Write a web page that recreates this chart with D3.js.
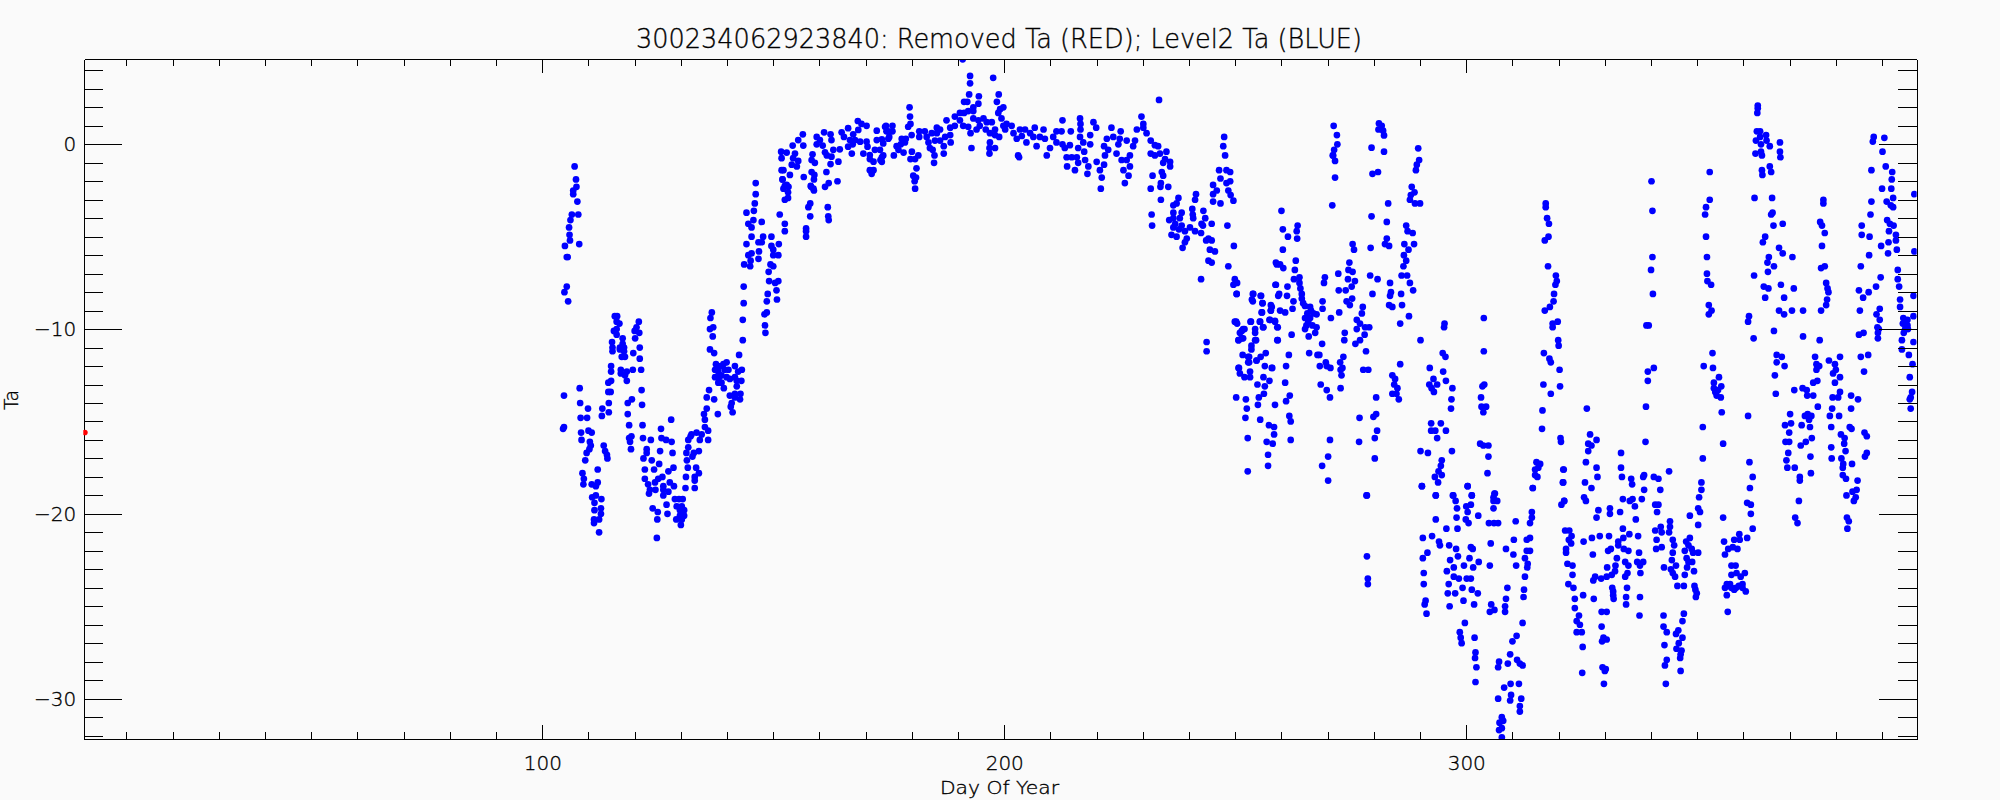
<!DOCTYPE html>
<html>
<head>
<meta charset="utf-8">
<script src="https://cdn.jsdelivr.net/npm/d3@7/dist/d3.min.js"></script>
<style>
html,body{margin:0;padding:0;background:#fafafa;}
svg{display:block;}
text{font-family:"DejaVu Sans Light","DejaVu Sans",sans-serif;font-weight:200;fill:#000;stroke:#000;stroke-width:.35px;}
</style>
</head>
<body>
<svg id="chart" width="2000" height="800"></svg>
<script>
const titleText = "300234062923840: Removed Ta (RED); Level2 Ta (BLUE)";
const xLabel = "Day Of Year";
const yLabel = "Ta";
const xMajor = [100,200,300];
const yMajor = [0,-10,-20,-30];
const xMinor = [10,20,30,40,50,60,70,80,90,110,120,130,140,150,160,170,180,190,210,220,230,240,250,260,270,280,290,310,320,330,340,350,360,370,380,390];
const yMinor = [4,3,2,1,-1,-2,-3,-4,-5,-6,-7,-8,-9,-11,-12,-13,-14,-15,-16,-17,-18,-19,-21,-22,-23,-24,-25,-26,-27,-28,-29,-31,-32];
const xDomain = [0.87,397.5];
const yDomain = [4.6,-32.2];

// Removed Ta (red): day, Ta
const removedPoints = [1,-15.6];

// Level2 Ta (blue), flat lists of day, Ta
const level2Spring = [
107,-1.2,107.3,-1.9,107.4,-2.3,106.7,-2.5,106.7,-2.7,107.6,-3.1,106.4,-3.8,107.8,-3.8,106.1,-4.1,105.8,-4.5,105.9,-4.9,106,-5.2,108,-5.4,104.9,-5.5,105.3,-6.1,105.5,-6.1,105.3,-7.7,104.8,-8,105.6,-8.5,
104.7,-13.6,104.5,-15.4,104.7,-15.3,108.1,-13.2,108.2,-14,109.9,-14.3,108.3,-14.8,109.7,-14.8,108.4,-15.6,108.5,-16,110,-15.5,110.7,-15.6,110.3,-16.1,110.5,-16.3,110.2,-16.5,109.6,-16.7,109.3,-17.1,108.7,-17.8,109,-18.1,108.9,-18.4,112,-17.6,110.7,-18.4,112,-18.3,111.6,-18.5,111.6,-19,110.8,-19.1,111.3,-19.4,112.8,-19.2,112.7,-19.7,111.3,-19.8,112.7,-20,112.3,-20.3,111.2,-20.3,111.2,-20.5,112.3,-21,
112.9,-14.7,113,-14.3,114.4,-14.5,114.4,-14,114.3,-13.4,114.8,-13.4,114.3,-12.9,114.9,-12.8,114.9,-12.3,114.9,-12,115.1,-10.7,115.2,-11,115.2,-11.2,115.7,-9.3,116.2,-9.3,116.1,-9.6,116.7,-9.7,116.1,-10,115.5,-10.1,116.1,-10.3,
117.4,-10.5,117.4,-10.8,116.8,-11,117.7,-11,116.8,-11.1,117.7,-11.2,117.2,-11.5,117.9,-11.5,117,-12.2,117,-12.4,118.3,-12.3,117.9,-12.5,118.3,-12.8,119.6,-12.2,121.4,-12.2,119.7,-11.3,121.1,-11,121.1,-11.6,120.1,-10.5,121,-10.2,120,-10.1,120.4,-9.9,120.9,-9.6,
121.5,-13.3,121.6,-14.1,119.4,-13.8,118.5,-14,118.5,-14.6,118.8,-15.2,121.7,-15.2,119.3,-15.8,118.8,-15.9,121.8,-15.9,119,-16.1,119.2,-16.5,113.3,-16.3,113.6,-16.6,114,-16.8,114.1,-17,
123.5,-16,125.7,-15.4,127.9,-14.9,125.8,-15.9,126.8,-16,128,-16.1,122.6,-16.5,122.6,-16.7,125.5,-16.6,128.2,-16.7,121.9,-17,123.7,-17.1,125.3,-17.3,122.2,-17.6,124.2,-17.6,127.3,-17.7,128.4,-17.5,122.2,-18.1,126,-18,125.1,-18.1,124.4,-18.3,122.9,-18.4,127.6,-18.3,128.5,-18.5,126.2,-18.5,123.3,-18.7,124.5,-18.7,123.1,-18.9,126.2,-18.7,127.3,-18.8,126.2,-19,
123.9,-19.7,125,-19.9,124.9,-20.3,124.8,-21.3,126.9,-19.5,127.1,-20,128.7,-19.2,129.6,-19.2,130.4,-19.2,129.1,-19.6,130.2,-19.6,130.7,-19.8,129.8,-19.8,130.7,-20.1,129.8,-20.1,129,-20.3,130.2,-20.3,130,-20.6,
131,-18.6,131.1,-18,131.5,-17.5,131.3,-17.1,131.2,-16.7,131.6,-16.4,131.6,-16,132.3,-15.7,133.4,-15.6,134.5,-15.7,135.9,-15.5,132.1,-15.8,134.1,-16,135.9,-16,132.5,-16.9,132.8,-16.7,133.9,-16.6,133.3,-17.5,133.9,-17.8,133,-18,133,-18.2,133,-18.6,
135.2,-15.3,135,-14.6,135.6,-14.3,135.2,-14.9,138,-14.6,135.6,-13.7,136.1,-13.3,137.2,-13.8,
137.6,-11.9,139.9,-11.8,137.4,-12.2,138.8,-12,140.3,-12.2,138.1,-12.3,137.4,-12.6,138.8,-12.5,139.9,-12.6,140.6,-12.7,138.1,-12.9,138.8,-12.9,139.3,-13.2,138.1,-12,139.5,-12.2,138.3,-12.6,139.2,-11.9,
141.7,-12,143.2,-12.2,142.4,-12.3,141.7,-12.6,143.1,-12.8,142.1,-13.1,142.1,-12.8,140.6,-13.6,141.7,-13.5,142.9,-13.5,141.7,-13.7,142.8,-13.8,141,-14,140.8,-14.2,141.2,-14.5,
142.6,-11.4,143.4,-10.6,143.4,-9.5,143.6,-8.6,143.6,-7.7,136.3,-11.1,137.2,-11.3,136.9,-10.4,136.3,-10,137,-9.9,136.4,-9.4,136.7,-9.1,
143.7,-6.5,145,-6.6,145.1,-6.3,144.6,-6,145.3,-5.9,146.8,-6.2,146.9,-5.8,144.2,-5.4,145.3,-5,146.8,-5.3,147.5,-5.3,147.8,-5,144.6,-4.3,145.3,-4.5,145.7,-4.1,147.5,-4.2,144.2,-3.7,145.8,-3.6,146,-3.2,146.2,-2.7,146.2,-2.1,
149.6,-5,149.6,-5.5,151.2,-5.4,150,-5.7,151.1,-6,150,-6,149.4,-6.5,150,-6.6,149,-6.9,149.1,-7.4,150.4,-7.5,151.1,-7.4,150.7,-7.9,148.8,-8.1,150.8,-8.4,148.6,-8.5,148.6,-9.1,148.1,-9.2,148.2,-9.8,148.3,-10.2,151.4,-3.8,152.5,-4.3,152.5,-4.7
];
const level2Summer = [
156.4,.54,155.4,.23,156.5,-.07,154.2,-.07,151.7,-.4,152.9,-.45,154.7,-.5,151.8,-.75,154.3,-.75,155.4,-.9,154,-1.1,155.1,-1.2,151.8,-1.4,152.2,-1.4,153.6,-1.66,152,-1.9,152.5,-2.25,153.3,-2.3,
152,-1.9,152.9,-2.2,152.2,-2.4,153.2,-2.6,153.2,-2.9,152.5,-3,158.5,-.54,158.3,-.85,159,-1,158.3,-1.5,158.9,-1.66,158.8,-1.9,156.6,-1.77,158.1,-2.25,158.7,-2.4,161.5,-1.5,162,-2.1,163.9,-2,161.2,-2.3,
158.2,-2.3,158.8,-2.5,158,-3.2,157.6,-3.4,158,-3.9,157.1,-4.55,157.1,-4.7,157.1,-5,161.8,-3.4,161.9,-3.9,162,-4.1,
159.4,.4,161,.65,160.1,.23,159.4,0,160.7,-.07,161.2,-.43,161.6,-.6,162.4,.54,162.6,.23,163,-.3,164.4,-.27,162.6,-.67,164.1,-.94,162.4,-1.07,
164.8,.65,166.2,.87,165.3,.4,166.6,.23,167.3,.54,168.3,1.26,169.1,1.1,170.2,1,168.4,.78,167.7,.23,167.2,0,166.2,-.13,167,-.5,168.8,.14,170.2,.14,170.4,-.13,169.5,-.5,170.9,-.58,172.4,.74,172.4,.23,174.4,1,174.5,.7,174.9,.3,173.8,.05,173.5,.27,172,-.3,173.1,-.3,173.8,-.6,170.9,-.8,171.7,-.94,173.2,-.85,170.9,-1.4,171.7,-1.4,171.3,-1.6,
173.5,-.7,173.5,-.95,174.2,.95,175.8,1,174.9,.7,175.8,.7,175.1,.4,176.1,-.6,176.7,-.1,177.8,.3,178.7,.3,177.6,0,178.2,-.45,178.5,.1,177.1,-.3,
179.5,2,179.6,1.5,179.7,1.1,179.2,.95,179.95,.5,180,-.4,179.7,-.8,181.4,-.6,180.7,-.8,181,-1.3,180.3,-1.7,180.9,-1.8,180.6,-2,180.7,-2.4,
181.6,.7,181.6,.4,182.8,.7,183.2,.4,184.3,.6,185.4,.9,185.4,.6,186.1,.8,185,.2,183.6,.1,183.9,-.2,184.5,-.3,184.9,-.6,184.8,-1,186.9,-.1,186.9,-.5,186.1,.2,187.2,.4,188.3,.5,188.4,.1,
187.5,1.3,188.3,.9,189.3,1.5,190.4,1.7,189.3,1,190.4,1.3,191.3,1.7,191.1,1,192.2,1.8,193.3,2,193.3,1.8,
191,4.6,192.6,3.7,192.6,3.3,192.4,2.7,191.3,2.3,192,2.3,194.5,2.6,194.4,2.2,197.6,3.6,198.8,2.7,198.4,2.3,
192.9,-.2,192.7,.6,194,.8,192.2,.95,193.3,1.4,194.4,1.3,195.5,1.4,196.2,1.2,194.7,1,197.3,1.2,196,.8,198,.8,196.9,.6,199.1,1.9,199.8,2,198.7,1.7,199.4,1.4,199.8,1,200.5,1.1,201.6,1,200.2,.8,198,.5,198.9,.4,196.9,.1,198,-.2,196.8,-.2,196.8,-.5,
202,.6,202.7,.3,203.4,.8,204.5,.8,203.8,.45,204.8,.1,205.6,.6,206.6,.9,206.3,.4,207,-.1,208.5,.8,207.7,.4,208.8,.3,203,-.6,203.2,-.7,
209.2,-.6,209.9,-.2,210.6,.4,211.3,.7,212.6,1.3,212.4,.7,211.3,.1,212.6,0,213.1,-.2,214.4,.7,214.2,-.05,213.5,-.7,214.6,-.7,213.6,-1.2,215.3,-1.4,216,-1,215.7,-.7,216,-.2,216.4,1.4,216.5,1.1,216.5,.8,216.4,.4,217.1,.1,217.3,-.4,217.5,-.85,218.2,-1.2,218,-1.6,218.6,.5,218.6,0,219.3,1.2,219.9,.9,
220,-.95,220.7,-1.4,221.1,-1.8,220.9,-2.4,221.6,-1.1,221.8,-.6,221.6,-.1,222.5,-.3,222.2,.3,223.2,.9,223.6,.4,224.7,0,225.2,.7,225,.3,224.3,-.5,225.4,-.85,226.5,-.85,227.2,-.6,227.2,-1.2,225.8,-1.4,226.9,-1.7,226.1,-2.1,
226.5,.2,228.3,.2,227.9,-.1,228.7,.8,229.7,1.5,230.1,1.1,230.1,.9,230.8,.6,231.7,.2,
232.6,-.05,233.3,-.1,231.7,-.5,232.6,-.6,233.7,-.5,233.5,2.4,235.1,-.4,234.8,-.8,234.4,-1,235.9,-.95,235.9,-1.2,234.1,-1.5,234.4,-1.7,232.1,-1.7,231.7,-2.4,233.9,-2.1,233.8,-2.3,235.5,-2.3,233.9,-3,231.9,-3.8,232,-4.4
];
const level2Autumn = [
237.7,-2.9,236.6,-3.3,237.3,-3.2,236.6,-3.7,238.4,-3.7,236.6,-4,235.7,-4.1,238,-4,236.6,-4.5,238.4,-4.4,236.2,-4.9,237.3,-5,239.1,-4.7,240.2,-4.5,241.3,-4.7,239.5,-5.1,238.6,-5.6,239.1,-5.3,237,-4.3,237.8,-4.6,
241.5,-2.7,241.3,-3,240.7,-3.5,240.8,-3.8,240.9,-4,243.1,-3.6,243.5,-4,242.7,-4.3,243,-4.4,244.9,-4.3,242.6,-4.8,244.2,-5.1,243.7,-5.2,244.9,-5.2,244.5,-5.7,245.6,-5.8,244.2,-6.3,244.9,-6.4,242.6,-7.3,
247.6,.4,247.4,-.1,247.8,-.6,246.5,-1.4,248.1,-1.4,248.9,-1.5,246.8,-1.85,248.9,-2,248.1,-2.1,245.2,-2.2,246,-2.5,248.5,-2.5,245.2,-2.7,249,-2.75,245.2,-3.1,246.8,-3.2,249.6,-3.05,248.3,-4.4,249.7,-5.5,248.5,-6.6,243.8,-10.7,243.8,-11.2,
249.9,-7.3,250.4,-7.5,249.6,-7.6,250.3,-8.1,253.9,-8.1,255.6,-8.2,253.8,-8.5,255.9,-8.6,255.7,-9.1,257.9,-8.8,257.7,-9,258.7,-7.6,259,-6.5,259.3,-8.2,
249.9,-9.6,250.4,-9.7,253.4,-9.6,255.4,-9.6,257.5,-9.5,258.6,-9.6,251.7,-10,254.3,-10,251,-10.2,256.1,-9.9,254.3,-10.2,251.7,-10.5,250.7,-10.6,254.3,-10.6,259.1,-9.9,259.1,-10.6,253.5,-10.9,251.6,-11.4,252.8,-11.5,252.8,-11.8,254.6,-11.7,255.5,-11.5,256.6,-11.3,256.4,-12,250.7,-12.1,257.9,-12.1,
260,-3.6,260.3,-4.6,260.3,-5.7,258.8,-6.4,259.7,-6.5,260.4,-6.7,258.8,-7.6,259.5,-8.1,261.3,-7.7,261.2,-8.2,259.7,-9,260.8,-9.1,259.2,-9.9,259.2,-10.6,262.6,-8.5,262.4,-8.9,262.2,-10.3,261.6,-11.4,261,-12,260.8,-12.9,261.8,-13.6,261,-13.9,261.7,-14.7,262,-15,262,-16,258.6,-14.1,258.4,-15.3,258.4,-15.7,258.1,-16.2,257.1,-16.8,257.1,-17.4,252.7,-17.7,256.8,-16.1,252.7,-15.9,257.3,-15.2,255.4,-14.9,252.2,-14.8,252.5,-14.3,252.3,-13.8,250.2,-13.7,254.9,-14.1,255.1,-13.7,256.2,-13.5,254.8,-13,256.4,-13.1,257.4,-12.8,256.1,-12.6,253.2,-12.6,252,-12.6,251,-12.4,253.2,-12.3,250.8,-12.1,258,-12.1,253,-11.8,253,-11.5,254.6,-11.7,
250.7,-10.6,251.4,-10.5,254.5,-10.6,251.4,-10.1,252,-10,250.2,-9.6,253.3,-9.6,255.3,-9.6,256,-9.9,257.4,-9.5,258.6,-9.55,255.8,-9.1,253.6,-8.4,253.8,-8.1,255.5,-8.2,255.9,-8.6,257.7,-8.7,257.7,-9,250.3,-8.1,253.5,-11.1,
263.5,-4.4,263.3,-4.7,261.4,-5,263.4,-5.1,263.1,-6.3,262.9,-6.8,262.7,-7.3,263.9,-7.2,263.9,-7.5,264.1,-7.8,264.4,-8.1,264.4,-8.35,264.7,-8.6,265.1,-8.75,266.2,-8.8,265.6,-9.15,266.9,-9.15,267.6,-9.2,265.1,-9.4,266.2,-9.4,265.4,-9.8,266.7,-9.8,267.6,-9.9,265.1,-10,267.3,-10.2,265.9,-10.4,266.4,-9,265.8,-9.6,
268.8,-10.8,266,-11.3,267.8,-11.4,268.2,-11.4,268.3,-12,269.6,-11.8,270.6,-12.1,269.8,-12,268.5,-13,269.8,-13.3,270.5,-13.7,272.8,-13.2,272.7,-11.8,273.4,-11.5,273.2,-12.1,272.8,-12.2,273,-12.5,
268.9,-8.5,268.9,-8.9,270.7,-9.4,272.5,-9.1,269.4,-7.2,269.2,-7.5,272.3,-7,271.6,-1.8,271,-3.3,271.2,-.6,271.6,-.9,271.3,1,272,.5,272.1,0,271.4,-.3,271.1,-.6,270.5,-16,270.1,-16.9,268.8,-17.4,270.1,-18.2,
274.7,-6.4,274.5,-6.8,275.4,-6.9,274.4,-7.3,275.9,-7.4,275.2,-7.7,273.9,-7.9,272.4,-7.9,275.3,-8.35,274.1,-8.5,274.8,-8.7,273.7,-10.2,273.6,-10.6,275.4,-5.4,275.7,-5.7,
277.6,-8.8,277.4,-9.15,276.3,-9.5,276.3,-10,277,-9.7,278.1,-9.9,279,-9.9,278,-10.3,277,-10.6,276,-10.8,278.3,-11.2,277.7,-12.2,278.8,-12.2,285.7,-11.9,
279.5,-3.9,279.3,-5.6,279.2,-7.1,280.8,-7.3,279.7,-8.1,279.7,-1.6,280.9,-1.5,282.2,-.4,281.1,1.13,281.7,1,281,.8,282,.74,282.2,.48,279.5,-.18,
283.1,-3.2,282.8,-4.2,282.8,-5.1,282.4,-5.4,283.3,-5.5,283.5,-7.5,283.7,-8,283.5,-8.2,283.3,-8.7,284,-8.8,286.1,-8.7,285.9,-8.1,285.7,-9.7,287.6,-9.3,
289.6,-.22,289.8,-.85,289.3,-1.1,289.1,-1.4,288.2,-2.3,288.8,-2.6,288,-2.75,287.8,-3,288.9,-3.2,290,-3.2,
287,-4.4,287.3,-4.7,288.4,-4.8,286.6,-5.4,288.7,-5.4,287.5,-5.7,286.5,-6,287,-6.3,286.4,-6.6,286,-7.1,287.2,-7.1,287.8,-7.5,288.5,-7.9,
284,-12.5,284.6,-12.7,284.4,-13,285.1,-13.2,284,-13.5,284.9,-13.5,285.4,-13.8,280.5,-13.7,280.5,-14.6,279.9,-14.75,280.7,-15.5,280.2,-15.9,280.2,-17,276.9,-14.8,276.8,-16.1,278.4,-19,278.5,-19,278.5,-22.3,278.7,-23.5,278.7,-23.8
];
const level2Winter = [
290.1,-10.6,295.3,-9.7,295.2,-9.9,294.9,-11.3,295.5,-11.5,292.1,-12.1,295,-12.3,295.6,-12.8,292.9,-12.7,292,-13,293.7,-13,292.5,-13.2,293,-13.4,297,-13.2,296.8,-13.8,296.7,-14.3,292.4,-15.1,294.5,-15.1,292.4,-15.5,293.3,-15.5,295.6,-15.5,293.7,-15.9,290.1,-16.6,291.7,-16.7,296.9,-16.6,294.7,-17.1,294.5,-17.4,294,-17.7,294.7,-17.9,293.2,-18,293.9,-18.3,290.4,-18.5,293.4,-19,
303.8,-9.4,303.8,-11.2,303.9,-13,303.5,-13.1,303.2,-13.7,304.3,-14.2,303.3,-14.2,303.7,-14.5,303,-16.2,303.7,-16.3,304.8,-16.3,304.8,-16.9,304.6,-17.8,300.3,-18.5,301.2,-19,306.2,-18.9,305.9,-19.1,297.2,-19,
317.2,-3.2,317.2,-3.4,317.5,-4,317.9,-4.3,317.8,-5,317,-5.2,317.7,-6.6,319.4,-7.1,319.6,-7.4,319.3,-7.6,319,-8.1,318.9,-8.5,318.1,-8.8,317,-9,319.8,-9.6,318.7,-9.7,318.7,-9.9,319.9,-10.6,320,-10.9,316.8,-11.3,318,-11.6,318.3,-11.8,320.2,-12.2,316.7,-13,320.3,-13.1,318.3,-13.5,316.5,-14.4,316.4,-15.4,320.4,-15.9,320.5,-16.1,
326.1,-14.3,326.8,-15.7,326.4,-16.2,328.2,-16,327.1,-16.3,326.4,-16.6,325.9,-17.2,328.2,-17.5,328.4,-18,325.7,-18.3,327.1,-18.6,325.5,-19.1,321,-17.6,320.9,-18.3,321.2,-19.3,
315.2,-17.2,316,-17.3,314.9,-17.6,315.6,-17.5,314.9,-17.9,315.4,-18,314.4,-18.6,
290.6,-21.3,290.6,-22.4,291.6,-22.1,290.8,-23.2,290.8,-23.8,291.2,-24.7,291,-24.9,291.4,-25.4,290.4,-18.5,
292.6,-21.2,293.4,-19,293.4,-20.3,294.1,-21.5,294.3,-21.7,295.7,-20.8,296.3,-21.7,297.8,-21.9,298.1,-20.8,297.9,-20.2,298,-19.7,297.7,-19.3,297.1,-19,
296.5,-22.5,298.2,-22.3,295.8,-23.1,297.3,-22.9,299.5,-22.8,301.5,-22.9,300.7,-22.4,302.7,-22.6,301,-21.8,301.4,-21.9,
297.3,-23.4,298.4,-23.5,300.1,-23.5,301,-23.5,296.2,-23.8,299.2,-24,301.2,-24.1,302.5,-24.3,296,-24.3,297.6,-24.3,299.4,-24.7,301.7,-24.9,296.4,-25,
300.3,-18.5,301.2,-19,301,-19.5,300,-19.6,300.3,-19.9,299.9,-20.3,300.5,-20.5,302.6,-20.1,
299.7,-25.9,298.6,-26.4,298.8,-26.7,299,-27,301.8,-26.7,302,-27.5,301.9,-27.8,302.2,-28.3,302,-29.1,
306.1,-18.9,305.9,-19.3,306.7,-19.3,305.9,-19.7,304.9,-20.5,306,-20.5,306.9,-20.5,305.3,-21.6,305.1,-22.8,
310.7,-20.4,310.3,-21.4,308.6,-21.9,310.2,-22.2,310.8,-22.8,308.9,-24,308.6,-24.6,305.4,-24.9,305.1,-25.3,306.1,-25.2,308.4,-25,308.4,-25.3,
312.2,-25.9,310.9,-26.6,310,-26.9,309.5,-27.6,307.1,-28,306.9,-28.3,309,-28.1,311,-27.9,311.6,-28.1,312.2,-28.2,309.6,-29.2,311.4,-29.2,308.2,-29.4,306.9,-30,309.7,-29.8,309.5,-30.1,311.9,-30,311.6,-30.4,311.6,-30.7,307.7,-31,308,-31.2,307.2,-31.3,307.7,-31.6,307.1,-31.7,307.7,-32.1,
314.2,-19.9,314.2,-20.2,313.8,-20.5,313.1,-21.4,313.8,-21.3,313.1,-22,313.8,-22,312.7,-22.4,313.3,-22.7,313.2,-22.9,312.7,-23.4,312.5,-24.1,312.4,-24.5,
314.4,-18.6,321.1,-17.6,321,-18.3,320.6,-19.5,321.2,-19.3,
321.4,-20.9,322.3,-20.9,322.8,-21.2,322.2,-21.4,322.7,-21.6,321.6,-21.9,321.6,-22.1,321.9,-22.7,323,-22.8,323,-23.3,322.1,-23.8,323.2,-24,323.5,-24.6,323.5,-25.1,324.4,-25.5,323.9,-25.8,324.6,-26,323.9,-26.4,325,-26.4,325.2,-27.2,325.1,-28.6,
325.4,-21.5,327.2,-21.3,328.9,-21.2,330.9,-21.2,327.4,-22.2,325.9,-19.3,
333.5,-16.7,333.5,-17.5,333.7,-18,335.7,-18.1,335.9,-18.4,338.3,-18,338.5,-17.9,338.5,-18.7,340.6,-18,341.6,-18.1,343.9,-17.7,342,-18.7,
333.9,-19.2,336,-19.2,335.4,-19.3,336.5,-19.6,338,-19.2,340.9,-19.5,341.6,-19.5,341.3,-19.9,333.3,-19.9,331.1,-19.7,331.1,-20,328.6,-19.8,328.2,-20.2,
336.7,-20.3,333.9,-20.8,335.3,-21.1,337.2,-21.2,334,-21.3,332.9,-21.5,332.9,-21.7,340.9,-20.9,342.1,-20.7,342.3,-21,344.1,-20.4,344.1,-20.7,343.9,-21,341.2,-21.4,344.7,-21.4,345,-21.7,341.1,-21.9,342.3,-21.8,344.7,-22.1,
331.3,-21.9,330.7,-22,334.1,-21.9,335.1,-22,337.4,-22.1,332.6,-22.4,334.4,-22.6,335.1,-22.8,337,-22.6,338.3,-22.6,337.6,-22.8,332.3,-22.8,332.2,-23.1,330.5,-22.9,334.9,-23.2,337.7,-23.2,331.5,-23.3,330.4,-23.4,334.4,-23.4,329.2,-23.5,327.9,-23.4,327.5,-23.6,
331.6,-24,334.8,-24,331.8,-24.2,331.8,-24.4,331.9,-24.6,334.6,-24.5,337.6,-24.5,334.6,-24.9,325.3,-24.4,327.6,-24.6,
329.3,-25.3,330.4,-25.3,337.5,-25.5,329.3,-26.1,329.7,-26.7,329.4,-26.9,330.4,-26.8,329.5,-28.3,330.2,-28.4,330,-28.5,329.8,-29.2,
342.7,-25.5,347.1,-25.4,346.8,-25.8,342.7,-26.1,343.4,-26.4,345.9,-26.3,345.4,-26.5,346.8,-26.7,346,-27,342.9,-27.1,345.5,-27.3,346.6,-27.4,346.4,-27.6,346.3,-27.8,343.4,-27.9,343,-28.2,346.4,-28.5,343.2,-29.2,
342.8,-22.9,344.5,-22.5,345.4,-22.8,344.3,-23,344.7,-23.2,345.2,-23.4,347.3,-23.3,345.7,-23.9,347.1,-23.9,
348.4,-20.1,350.2,-20.6,350.2,-19.7,350.6,-19.9,350.4,-19.1,350.9,-18.7,350.9,-18.3,
348.4,-21.3,347.6,-21.5,348.1,-21.7,348.8,-21.9,347.3,-22,349.1,-22.1,350.2,-22.1,347.7,-22.4,348.1,-22.6,348.9,-22.6,347.8,-22.9,349.3,-23.1,349.4,-23.9,349.6,-24.1,349.9,-24.3,349.7,-24.5,
355.6,-20.2,355.8,-21.5,356,-22.2,356.7,-21.9,357.7,-21.8,358.7,-21.9,358,-21.4,359.1,-21.1,359.2,-21.4,360.8,-21.3,
357.4,-22.8,358.3,-22.8,357.4,-23.3,358.5,-23.2,359.4,-23.4,360.3,-23.2,356.4,-23.8,356,-24,357.1,-23.8,357.4,-24,358.4,-24,359.8,-23.8,359.8,-24,360.5,-24.2,356.4,-24.4,356.6,-25.3,356.9,-23.9,358,-24.1,359,-23.9,
339,-9.8,339.5,-9.8,340.6,-12.1,339.3,-12.3,339.3,-12.8,338.9,-14.2,338.8,-16.1,
340.1,-2,340.3,-3.6,340.3,-6.1,340,-6.8,340.4,-8.1,
352.7,-1.5,352.7,-3,351.9,-3.4,351.7,-3.8,351.9,-5,352.1,-6.1,352.1,-7,352.2,-7.4,353,-7.6,352.5,-8.7,353.1,-9,352.5,-9.2,353.3,-11.3,351.4,-12,353.4,-12.1,354.7,-12.6,353.6,-12.9,355.2,-13.1,353.6,-13.2,354.2,-13.6,355.1,-13.7,354.5,-13.3,353.9,-13.4,355.3,-14.5,351.2,-15.3,355.6,-16.2,351.2,-17,
362,-18,361.4,-18.6,360.8,-19.4,361.6,-19.5,361.6,-20,362,-20.8,361,-14.7,361.3,-17.2,
363.1,2.1,363.1,1.95,363,1.7,362.9,.7,363.6,.7,364.9,.5,363.6,.4,362.7,.2,365,.2,363.8,0,365.7,-.1,367.9,.1,367.9,-.4,368,-.7,362.6,-.5,363.8,-.4,364,-.6,365.7,-1.2,364,-1.4,366,-1.5,364.1,-1.66,362.4,-2.9,366.2,-2.9,366.3,-3.7,366,-3.8,366.5,-4.4,368.5,-4.3,364.7,-5,364.2,-5.3,367.7,-5.6,368.5,-5.9,370.6,-6.1,365.5,-6.1,365.2,-6.4,366.6,-6.6,365.3,-6.9,362.3,-7.1,364.4,-7.7,365.4,-7.8,368.1,-7.6,370.9,-7.8,364.7,-8.3,368.8,-8.3,367.7,-9,368.8,-9.2,370.5,-9,372.9,-9,376.8,-9,
361.2,-9.3,361,-9.6,366.6,-10.1,362.2,-10.5,372.9,-10.4,376.5,-10.6,
377.3,-3,377.3,-3.2,376.6,-4.2,377,-4.4,377.6,-4.8,377,-5.5,377.6,-6.6,376.8,-6.7,377.9,-7.5,378.2,-7.8,378.4,-8,378.1,-8.4,377.9,-8.7,
367.2,-11.4,368.3,-11.5,367.2,-11.8,368.9,-12,366.8,-12.5,367,-13.5,371,-13.3,372.8,-13.2,373.7,-13.3,373.8,-13.6,375.1,-13.6,
375.5,-11.5,375.8,-11.9,376.4,-12,375.8,-12.2,375.1,-12.9,376,-12.8,
376.1,-14.2,373.9,-14.6,374.7,-14.7,373.3,-14.7,374.2,-14.9,370.1,-14.6,370.3,-15.1,369,-15.2,372.6,-15.2,374.4,-15.3,369.9,-15.6,374.8,-15.9,369.1,-16.1,369.9,-16.1,373.5,-16.1,372.4,-16.3,369.7,-16.7,374.5,-16.9,369.3,-17.1,369.5,-17.5,371.1,-17.5,374.6,-17.8,372.2,-18,372.2,-18.2,372,-19.3,371.2,-20.2,371.7,-20.5,
378.5,-11.7,379.8,-11.9,380.9,-11.5,380,-12.2,379.4,-12.4,380.9,-12.6,379.8,-12.9,379.3,-13.7,380.9,-13.4,380.5,-13.7,379.2,-14.3,378.7,-14.7,380.7,-14.7,379,-15.3,383,-15.3,383.4,-15.4,381.1,-15.7,381.9,-15.9,381.8,-16.2,379,-16.4,382.1,-16.6,379.1,-17,381.2,-17,381.6,-17.3,381.5,-17.5,383.5,-17.3,381.5,-17.9,382.2,-18.1,384.7,-18.2,384.5,-18.7,383.6,-18.8,382.3,-19,384.3,-19.1,383.9,-19.3,382.4,-20.2,382.8,-20.4,382.5,-20.8,
386.2,-15.6,386.7,-15.8,386.7,-16.7,386.3,-16.9,383.3,-13.6,384.8,-13.8,383.3,-14.3,385.4,-11.5,387,-11.4,386.1,-12.3,
388.2,.4,388,.15,390.5,.35,390.1,-.4,387.7,-1.4,390.8,-1.2,392.2,-1.5,392.1,-1.9,390,-2.4,392,-2.4,392.4,-2.9,387.7,-3.1,391,-3.1,391.9,-3.3,392.4,-3.4,387.5,-3.8,391.1,-4.1,391.7,-4.3,392.5,-4.4,385.6,-4.4,385.6,-4.9,387.3,-5,391.5,-4.7,393,-4.9,393,-5.2,391.4,-5.3,389.8,-5.5,393.2,-5.7,391.3,-5.9,387.2,-6,385.4,-6.6,393.4,-6.8,389.7,-7.2,393.4,-7.3,388.7,-7.7,393.7,-7.7,385,-7.9,387.1,-8,385.9,-8.3,393.9,-8.4,393.9,-8.8,385.2,-9,389.5,-8.9,388.8,-9.2,389.5,-9.5,389,-9.9,389.3,-10,389.1,-10.2,389.1,-10.5,385,-10.3,386,-10.2,
394.6,-9.4,395.5,-9.5,394.5,-9.7,395.5,-9.8,395,-10,395.6,-10,394.7,-10.2,394.3,-10.6,394.3,-11.1,395.8,-11.4,396.6,-11.9,396,-12.6,396.5,-13.4,396.2,-13.7,396,-13.8,396.2,-14.3,396.8,-10.7,396.8,-9.3,396.8,-8.2,397,-5.8,397,-2.7
];

const toPairs = flat => d3.range(0, flat.length, 2).map(i => ({day: flat[i], ta: flat[i+1]}));
const level2 = [level2Spring, level2Summer, level2Autumn, level2Winter].flatMap(toPairs);
const removed = toPairs(removedPoints);

const L = 84.3, R = 1916.7, T = 59.3, B = 739.3;
const x = d3.scaleLinear().domain(xDomain).range([L, R]);
const y = d3.scaleLinear().domain(yDomain).range([T, B]);
const svg = d3.select("#chart");

const defs = svg.append("defs");
defs.append("clipPath").attr("id","plot")
  .append("rect").attr("x",L).attr("y",T).attr("width",R-L).attr("height",B-T);
defs.append("clipPath").attr("id","plotRed")
  .append("rect").attr("x",L-1).attr("y",T).attr("width",R-L+1).attr("height",B-T);

svg.append("g").attr("clip-path","url(#plot)")
  .selectAll(".blue").data(level2).join("circle").attr("class","blue")
  .attr("cx",d=>x(d.day)).attr("cy",d=>y(d.ta)).attr("r",3.35).attr("fill","#0000ff");

function styleAxis(g){
  g.attr("shape-rendering","crispEdges");
  g.select(".domain").attr("stroke","#000").attr("stroke-width",1);
  g.selectAll(".tick line").attr("stroke","#000").attr("stroke-width",1);
}
const none = () => "";
const addAxis = (gen, tx, ty) => svg.append("g").attr("transform",`translate(${tx},${ty})`).call(gen).call(styleAxis);

addAxis(d3.axisBottom(x).tickValues(xMajor).tickSizeInner(-14).tickSizeOuter(0).tickPadding(17).tickFormat(d3.format("d")),0,B)
  .selectAll("text").attr("font-size",20).attr("font-family",null);
addAxis(d3.axisBottom(x).tickValues(xMinor).tickSizeInner(-7).tickSizeOuter(0).tickFormat(none),0,B);
addAxis(d3.axisTop(x).tickValues(xMajor).tickSizeInner(-14).tickSizeOuter(0).tickFormat(none),0,T);
addAxis(d3.axisTop(x).tickValues(xMinor).tickSizeInner(-7).tickSizeOuter(0).tickFormat(none),0,T);

const minusFmt = d => d < 0 ? "\u2212" + Math.abs(d) : String(d);
addAxis(d3.axisLeft(y).tickValues(yMajor).tickSizeInner(-37.7).tickSizeOuter(0).tickPadding(8).tickFormat(minusFmt),L,0)
  .selectAll("text").attr("font-size",20).attr("font-family",null);
addAxis(d3.axisLeft(y).tickValues(yMinor).tickSizeInner(-18.7).tickSizeOuter(0).tickFormat(none),L,0);
addAxis(d3.axisRight(y).tickValues(yMajor).tickSizeInner(-37.7).tickSizeOuter(0).tickFormat(none),R,0);
addAxis(d3.axisRight(y).tickValues(yMinor).tickSizeInner(-18.7).tickSizeOuter(0).tickFormat(none),R,0);

svg.append("g").attr("clip-path","url(#plotRed)")
  .selectAll(".red").data(removed).join("circle").attr("class","red")
  .attr("cx",d=>x(d.day)).attr("cy",d=>y(d.ta)).attr("r",2.8).attr("fill","#ff0000");

svg.append("text").attr("x",636).attr("y",48).attr("font-size",26)
  .attr("textLength",726).attr("lengthAdjust","spacingAndGlyphs").text(titleText);
svg.append("text").attr("x",940).attr("y",794).attr("font-size",18)
  .attr("textLength",119).attr("lengthAdjust","spacingAndGlyphs").text(xLabel);
svg.append("text").attr("transform","translate(18,410) rotate(-90)").attr("font-size",19)
  .attr("textLength",20).attr("lengthAdjust","spacingAndGlyphs").text(yLabel);
</script>
</body>
</html>
